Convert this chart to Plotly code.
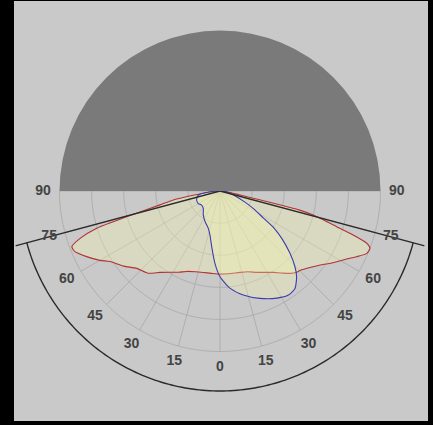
import numpy as np
import plotly.graph_objects as go

# ---- data (gamma angle in degrees: 0 = straight down, negative = left) ----
red_gamma = [-90, -85, -82, -80.5, -79, -77, -74.6, -73.2, -71.3, -69.4, -67.3, -63.8, -60,
             -57.3, -52, -47.1, -41.1, -36.4, -31.6, -27, -22.4, -17, -11.6, -6, 0, 6, 13.8,
             19, 24.3, 29, 33.2, 37, 40.4, 43.3, 45.4, 50, 53.5, 56, 58.8, 62, 64.3, 67,
             69.1, 70.4, 71.7, 73, 75.5, 76.5, 77, 77.5, 78.5, 80, 85, 90]
red_r = [0, 0.2, 0.5, 1.0, 1.5, 1.92, 3.02, 4.01, 4.6, 4.93, 4.9, 4.63, 4.32,
         4.07, 3.8, 3.54, 3.4, 3.15, 2.97, 2.84, 2.71, 2.63, 2.59, 2.58, 2.59, 2.59, 2.61,
         2.66, 2.78, 2.9, 3.03, 3.2, 3.37, 3.48, 3.52, 3.7, 3.88, 4.05, 4.25, 4.5, 4.72, 4.97,
         5.0, 4.85, 4.37, 3.8, 3.0, 2.55, 1.9, 1.2, 0.7, 0.4, 0.15, 0]

blue_gamma = [-90, -86, -82, -78, -69, -60, -52.6, -44, -35, -26, -17.4, -12.8, -8.5, -4, 0,
              6, 12.6, 20.4, 28, 33.3, 37.6, 41.8, 44.7, 48.3, 52.3, 55.5, 58, 62, 66, 72,
              78, 84, 90]
blue_r = [0, 0.3, 0.58, 0.7, 0.78, 0.78, 0.72, 0.75, 0.91, 1.06, 1.22, 1.41, 1.75, 2.26, 2.67,
          3.05, 3.32, 3.57, 3.78, 3.88, 3.83, 3.58, 3.32, 2.92, 2.45, 2.05, 1.6, 1.2, 0.85, 0.5,
          0.3, 0.15, 0]

grid_r = [1, 2, 3, 4, 5]
spoke_angles = [-90, -75, -60, -45, -30, -15, 0, 15, 30, 45, 60, 75, 90]
label_angles = [-90, -75, -60, -45, -30, -15, 0, 15, 30, 45, 60, 75, 90]
label_text = ["90", "75", "60", "45", "30", "15", "0", "15", "30", "45", "60", "75", "90"]
cutoff_angles = [-75, 75]

GRID_MAX = 5
LABEL_R = 5.51
ARC_R = 6.23
LINE_R = 6.6

W, H = 433, 425
CX, CY = 220, 191          # centre of the diagram in pixels (from top-left)
PX_UNIT = 32.1

fig = go.Figure()

# grid circles
theta_c = np.linspace(-90, 90, 181)
for g in grid_r:
    fig.add_trace(go.Scatterpolar(r=np.full(theta_c.shape, g), theta=theta_c, mode="lines",
                                  line=dict(color="#a8a8a8", width=0.8),
                                  hoverinfo="skip", showlegend=False, subplot="polar"))
# spokes
sr, st = [], []
for a in spoke_angles:
    sr += [0, GRID_MAX, None]
    st += [a, a, None]
fig.add_trace(go.Scatterpolar(r=sr, theta=st, mode="lines",
                              line=dict(color="#a8a8a8", width=0.8),
                              hoverinfo="skip", showlegend=False, subplot="polar"))

# intensity curves
fig.add_trace(go.Scatterpolar(r=red_r, theta=red_gamma, mode="lines", fill="toself",
                              fillcolor="rgba(255,255,175,0.30)",
                              line=dict(color="#b03232", width=1.1, shape="spline", smoothing=0.6),
                              showlegend=False, subplot="polar"))
fig.add_trace(go.Scatterpolar(r=blue_r, theta=blue_gamma, mode="lines", fill="toself",
                              fillcolor="rgba(255,255,175,0.30)",
                              line=dict(color="#3c3cae", width=1.1, shape="spline", smoothing=0.6),
                              showlegend=False, subplot="polar"))

# cutoff lines and arc
for a in cutoff_angles:
    fig.add_trace(go.Scatterpolar(r=[0, LINE_R], theta=[a, a], mode="lines",
                                  line=dict(color="#2a2a2a", width=1.4),
                                  hoverinfo="skip", showlegend=False, subplot="polar"))
theta_a = np.linspace(cutoff_angles[0], cutoff_angles[1], 151)
fig.add_trace(go.Scatterpolar(r=np.full(theta_a.shape, ARC_R), theta=theta_a, mode="lines",
                              line=dict(color="#2a2a2a", width=1.4),
                              hoverinfo="skip", showlegend=False, subplot="polar"))

# angle labels
fig.add_trace(go.Scatterpolar(r=[LABEL_R] * len(label_angles), theta=label_angles, mode="text",
                              text=label_text, textposition="middle center", cliponaxis=False,
                              textfont=dict(family="Liberation Sans, Arial, sans-serif", size=14,
                                            color="#444444", weight="bold"),
                              hoverinfo="skip", showlegend=False, subplot="polar"))

# upper half (dark semicircle)
fig.add_trace(go.Scatterpolar(r=[], theta=[], mode="lines", showlegend=False, subplot="polar2"))

R_low = LINE_R * PX_UNIT
R_up = GRID_MAX * PX_UNIT
fig.update_layout(
    width=W, height=H, margin=dict(l=0, r=0, t=0, b=0),
    paper_bgcolor="#000000", plot_bgcolor="rgba(0,0,0,0)",
    showlegend=False,
    shapes=[dict(type="rect", xref="paper", yref="paper", layer="below",
                 x0=14 / W, x1=428 / W, y0=4 / H, y1=(H - 1) / H,
                 fillcolor="#c9c9c9", line=dict(width=0))],
    polar=dict(
        domain=dict(x=[(CX - R_low) / W, (CX + R_low) / W],
                    y=[(H - CY - R_low) / H, (H - CY) / H]),
        sector=[180, 360], bgcolor="rgba(0,0,0,0)",
        radialaxis=dict(visible=False, range=[0, LINE_R]),
        angularaxis=dict(visible=False, rotation=-90, direction="counterclockwise"),
    ),
    polar2=dict(
        domain=dict(x=[(CX - R_up) / W, (CX + R_up) / W],
                    y=[(H - CY) / H, (H - CY + R_up) / H]),
        sector=[0, 180], bgcolor="#7a7a7a",
        radialaxis=dict(visible=False, range=[0, GRID_MAX]),
        angularaxis=dict(visible=False),
    ),
)

fig.write_html("out.html", config={"displayModeBar": False},
               post_script="document.body.style.margin='0';document.body.style.background='#000';")
